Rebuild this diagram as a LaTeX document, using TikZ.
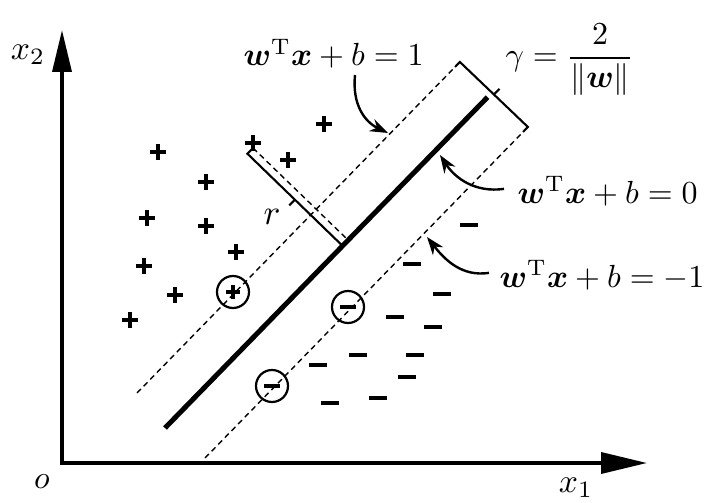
\documentclass[tikz,border=0pt]{standalone}
\usepackage{amsmath,bm}
\usetikzlibrary{arrows.meta,calc}
\tikzset{
  plusmark/.pic={\draw[line width=3.6pt] (-8,0) -- (8,0) (0,-8) -- (0,8);},
  minusmark/.pic={\draw[line width=3.8pt] (-9,0) -- (9,0);},
  smallplus/.pic={\draw[line width=3.2pt] (-7,0) -- (7,0) (0,-7) -- (0,7);},
  smallminus/.pic={\draw[line width=3.6pt] (-8,0) -- (8,0);},
}
\begin{document}
\begin{tikzpicture}[x=1pt,y=-1pt,
  axis/.style={line width=3.6pt,line join=miter,
    {Triangle[length=42pt,width=19pt]}-{Triangle[length=46pt,width=21pt]}},
  sep/.style={line width=5pt},
  margin/.style={line width=1.4pt,dash pattern=on 5.5pt off 4pt},
  brk/.style={line width=2.1pt,line join=miter},
  callout/.style={line width=2.4pt,-{Stealth[length=18pt,width=13pt]}},
  lab/.style={scale=3.2,inner sep=0pt},
  circmark/.style={circle,draw,line width=2.2pt,minimum size=32pt,inner sep=0pt},
]
\useasboundingbox (0,0) rectangle (720,503);
% axes
\coordinate (O) at (62,463);
\coordinate (Ytip) at (62,30);
\coordinate (Xtip) at (647,463);
\draw[axis] (Ytip) -- (O) -- (Xtip);
\node[lab,scale=1.05] (x2) at (28,55) {$x_2$};
\node[lab,scale=1.05] (x1) at (576,488) {$x_1$};
\node[lab] (o) at (42,482) {$o$};
% separating line and margins
\coordinate (S0) at (165,428);
\coordinate (S1) at (487.5,97.2);
\coordinate (U0) at (137,393);
\coordinate (U1) at (455,67);
\coordinate (L0) at (205,458);
\coordinate (L1) at (523,132);
\draw[sep] (S0) -- (S1);
\draw[margin] (U0) -- (U1);
\draw[margin] (L0) -- (L1);
% gamma bracket
\coordinate (G1) at (459.9,62);
\coordinate (G2) at (527.9,127);
\coordinate (GM) at (493.9,94.5);
\coordinate (GN) at (499.5,88.8);
\draw[brk] (U1) -- (G1) -- (G2) -- (L1);
\draw[brk] (GM) -- (GN);
% r bracket
\coordinate (A) at (253,148);
\coordinate (B) at (348,240);
\coordinate (A2) at (247.4,153.7);
\coordinate (B2) at (342.4,245.7);
\coordinate (RM) at (294.9,199.7);
\coordinate (RN) at (289.3,205.4);
\draw[margin] (A) -- (B);
\draw[brk] (A) -- (A2) -- (B2) -- (B);
\draw[brk] (RM) -- (RN);
\node[lab,scale=1.1] (r) at (272,217) {$r$};
% positive samples
\foreach \p in {(158,152),(206,182),(147,218),(206,226),(144,266),(236,252),(175,295),(130,320),(324,124),(253,143),(288,160)}
  \pic at \p {plusmark};
% negative samples
\foreach \p in {(469,225),(412,264),(442,294),(395,317),(433,327),(358,355),(415,355),(318,365),(407,377),(330,403),(378,398)}
  \pic at \p {minusmark};
% support vectors
\node[circmark] (sp) at (233,292) {};
\pic at (sp) {smallplus};
\node[circmark] (sn1) at (348,307) {};
\pic at (sn1) {smallminus};
\node[circmark] (sn2) at (272,386) {};
\pic at (sn2) {smallminus};
% labels
\node[lab,anchor=base west] (lp) at (243,66) {$\bm{w}^{\mathrm{T}}\bm{x}+b=1$};
\node[lab,anchor=base west] (l0) at (517,203) {$\bm{w}^{\mathrm{T}}\bm{x}+b=0$};
\node[lab,anchor=base west] (lm) at (499,287) {$\bm{w}^{\mathrm{T}}\bm{x}+b=-1$};
\node[lab,anchor=base west] (gam) at (505,66) {$\gamma=\dfrac{2}{\|\bm{w}\|}$};
% callouts
\coordinate (tp) at (388,133);
\coordinate (t0) at (440,155);
\coordinate (tm) at (427,237);
\draw[callout] (355,75) .. controls (352,105) and (365,122) .. (tp);
\draw[callout] ($(l0.west)+(-13,-2)$) .. controls (475,193) and (455,178) .. (t0);
\draw[callout] ($(lm.west)+(-10,-2)$) .. controls (462,277) and (445,260) .. (tm);
\end{tikzpicture}
\end{document}
